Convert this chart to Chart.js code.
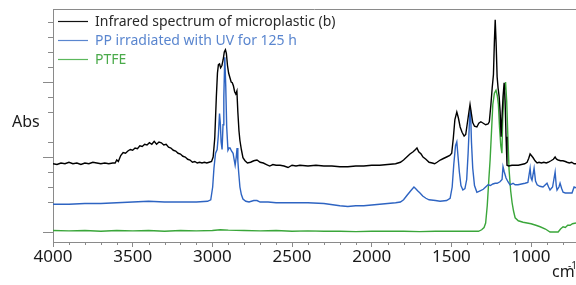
<!DOCTYPE html>
<html>
<head>
<meta charset="utf-8">
<script src="https://cdn.jsdelivr.net/npm/chart.js@4.4.1/dist/chart.umd.min.js"></script>
<style>
html,body{margin:0;padding:0;background:#fff;}
#wrap{width:576px;height:285px;position:relative;}
</style>
</head>
<body>
<div id="wrap"><canvas id="c" width="576" height="285"></canvas></div>
<script>
// ---- data (wavenumber cm-1, absorbance arbitrary units) ----
const seriesLabels = ["Infrared spectrum of microplastic (b)", "PP irradiated with UV for 125 h", "PTFE"];
const xTickValues = [1000, 1500, 2000, 2500, 3000, 3500, 4000];
const xMinorTickValues = [800, 900, 1100, 1200, 1300, 1400, 1600, 1700, 1800, 1900, 2100, 2200, 2300, 2400, 2600, 2700, 2800, 2900, 3100, 3200, 3300, 3400, 3600, 3700, 3800, 3900];
const yMajorTickValues = [0, 1, 2];
const yMinorTickValues = [0.4, 0.6, 0.8, 1.2, 1.6, 1.8, 2.2, 2.4, 2.6, 2.8];

const blackWn = [4000,3975,3950,3925,3900,3875,3850,3825,3800,3775,3750,3725,3700,3675,3650,3625,3610,3600,3590,3575,3560,3545,3530,3515,3500,3485,3470,3455,3440,3425,3410,3395,3380,3365,3350,3335,3320,3305,3290,3275,3260,3245,3230,3215,3200,3185,3170,3155,3140,3125,3110,3095,3080,3065,3050,3035,3020,3005,2995,2985,2975,2968,2962,2955,2948,2940,2932,2925,2918,2912,2905,2898,2890,2882,2875,2868,2860,2853,2846,2840,2833,2827,2818,2808,2795,2780,2760,2740,2720,2700,2680,2660,2640,2620,2600,2575,2550,2525,2500,2475,2450,2400,2350,2300,2250,2200,2150,2100,2050,2000,1950,1900,1850,1820,1800,1780,1760,1740,1725,1716,1705,1690,1678,1660,1640,1620,1605,1590,1570,1550,1530,1510,1498,1488,1478,1466,1456,1445,1433,1420,1410,1400,1390,1383,1376,1366,1355,1340,1328,1315,1300,1285,1270,1262,1252,1244,1236,1230,1225,1219,1213,1207,1200,1194,1188,1182,1176,1169,1163,1157,1151,1140,1120,1100,1080,1060,1040,1025,1015,1006,998,987,975,962,950,935,920,905,893,875,860,849,840,830,815,800,785,774,760,745,730,718];
const blackAbs = [0.91,0.90,0.92,0.91,0.93,0.91,0.92,0.90,0.92,0.91,0.93,0.92,0.91,0.92,0.91,0.92,0.92,0.96,0.94,1.02,1.06,1.05,1.08,1.10,1.09,1.12,1.11,1.15,1.14,1.17,1.16,1.19,1.17,1.21,1.17,1.20,1.19,1.16,1.17,1.13,1.12,1.09,1.08,1.05,1.04,1.01,1.00,0.97,0.96,0.93,0.94,0.92,0.93,0.92,0.93,0.92,0.93,0.94,1.00,1.25,1.80,2.12,2.23,2.24,2.19,2.22,2.30,2.40,2.43,2.38,2.22,2.12,2.06,2.00,1.99,1.95,1.87,1.84,1.88,1.60,1.35,1.22,1.10,0.99,0.95,0.92,0.93,0.95,0.96,0.93,0.92,0.90,0.88,0.90,0.89,0.89,0.88,0.86,0.89,0.88,0.89,0.88,0.89,0.88,0.88,0.87,0.87,0.88,0.88,0.89,0.89,0.90,0.91,0.93,0.96,1.00,1.04,1.07,1.10,1.12,1.07,1.04,1.00,0.97,0.93,0.92,0.91,0.93,0.96,0.98,1.00,1.02,1.05,1.25,1.50,1.60,1.52,1.40,1.33,1.28,1.30,1.45,1.60,1.70,1.60,1.46,1.41,1.40,1.45,1.47,1.45,1.43,1.44,1.47,1.70,1.92,2.10,2.55,2.83,2.50,2.07,1.92,1.80,1.60,1.27,1.55,1.80,1.99,1.75,1.27,0.89,0.88,0.89,0.89,0.89,0.90,0.91,0.93,0.98,1.04,1.02,0.99,0.95,0.92,0.93,0.92,0.93,0.92,0.93,0.95,0.97,1.00,0.97,0.96,0.95,0.95,0.94,0.93,0.92,0.93,0.91,0.91];

const blueWn = [4000,3900,3800,3700,3600,3500,3400,3300,3200,3100,3030,3010,2998,2990,2980,2970,2962,2955,2950,2945,2939,2933,2928,2922,2916,2910,2902,2895,2889,2880,2870,2862,2857,2850,2845,2840,2835,2827,2818,2808,2790,2770,2740,2720,2700,2650,2600,2500,2400,2300,2200,2150,2100,2050,2000,1950,1900,1850,1820,1800,1778,1755,1735,1725,1712,1697,1680,1660,1640,1600,1571,1530,1508,1495,1485,1474,1466,1458,1450,1440,1428,1415,1404,1395,1385,1380,1374,1366,1355,1340,1320,1300,1285,1270,1255,1240,1225,1213,1195,1182,1176,1168,1157,1145,1132,1113,1100,1082,1060,1038,1020,1006,1000,994,981,972,962,945,925,900,890,881,865,849,842,837,825,818,808,799,785,774,755,743,730,718];
const blueAbs = [0.37,0.37,0.38,0.38,0.39,0.40,0.41,0.40,0.40,0.40,0.41,0.43,0.60,0.85,1.05,1.10,1.30,1.58,1.45,1.20,1.10,1.43,1.80,2.33,1.95,1.40,1.09,1.12,1.12,1.08,1.05,0.95,0.89,1.00,1.12,0.95,0.80,0.60,0.50,0.44,0.41,0.40,0.42,0.42,0.40,0.40,0.39,0.39,0.39,0.38,0.35,0.34,0.35,0.35,0.36,0.37,0.38,0.39,0.40,0.43,0.49,0.55,0.60,0.58,0.55,0.52,0.48,0.45,0.43,0.42,0.41,0.42,0.45,0.60,0.90,1.15,1.20,1.00,0.80,0.62,0.56,0.58,0.70,1.05,1.55,1.63,1.20,0.85,0.62,0.53,0.55,0.57,0.60,0.63,0.62,0.64,0.65,0.65,0.67,0.70,0.87,0.80,0.72,0.67,0.63,0.65,0.63,0.63,0.64,0.65,0.66,0.85,0.72,0.69,0.85,0.68,0.63,0.61,0.60,0.65,0.60,0.56,0.60,0.80,0.62,0.56,0.60,0.65,0.58,0.53,0.52,0.52,0.52,0.52,0.60,0.59];

const greenWn = [4000,3900,3800,3700,3600,3500,3400,3300,3200,3100,3000,2950,2900,2800,2700,2600,2500,2400,2300,2200,2100,2000,1900,1800,1700,1600,1500,1400,1330,1310,1295,1285,1275,1265,1257,1248,1240,1230,1220,1212,1205,1198,1190,1183,1178,1170,1160,1153,1146,1138,1128,1119,1110,1100,1080,1050,1025,1000,970,943,910,881,860,830,815,799,785,770,755,740,718];
const greenAbs = [0.02,0.015,0.02,0.01,0.02,0.015,0.02,0.01,0.02,0.015,0.02,0.03,0.025,0.02,0.015,0.02,0.01,0.015,0.01,0.01,0.005,0.01,0.01,0.01,0.005,0.01,0.01,0.01,0.01,0.03,0.06,0.12,0.35,0.70,0.96,1.35,1.70,1.85,1.89,1.82,1.70,1.40,1.15,1.05,1.50,1.85,2.00,1.75,1.30,0.83,0.55,0.39,0.28,0.19,0.15,0.13,0.12,0.11,0.09,0.07,0.04,0.00,0.00,0.00,0.04,0.07,0.06,0.09,0.09,0.11,0.12];

const seriesColors = ["#000000", "#2e64c2", "#3aa63a"];
const legendTextColors = ["#2a2a2a", "#5a86cf", "#4aaa4a"];
const legendLineColors = ["#111111", "#5a86cf", "#5cb85c"];

function pairs(xs, ys){ return xs.map((x,i)=>({x:x, y:ys[i]})); }

const FONT = "'Noto Sans', 'Open Sans', sans-serif";
const AXIS_COLOR = "#8a8a8a";

const decorPlugin = {
  id: 'decor',
  afterDraw(chart){
    const ctx = chart.ctx, ca = chart.chartArea;
    const xs = chart.scales.x, ys = chart.scales.y;
    ctx.save();
    ctx.strokeStyle = AXIS_COLOR;
    ctx.lineWidth = 1;
    // top border
    ctx.beginPath(); ctx.moveTo(ca.left, ca.top + 0.5); ctx.lineTo(ca.right, ca.top + 0.5); ctx.stroke();
    // x minor ticks
    ctx.beginPath();
    xMinorTickValues.forEach(v=>{
      const px = Math.round(xs.getPixelForValue(v)) + 0.5;
      ctx.moveTo(px, ca.bottom); ctx.lineTo(px, ca.bottom + 3);
    });
    ctx.stroke();
    // y ticks
    ctx.beginPath();
    yMajorTickValues.forEach(v=>{
      const py = Math.round(ys.getPixelForValue(v)) + 0.5;
      ctx.moveTo(ca.left, py); ctx.lineTo(ca.left - 10, py);
    });
    yMinorTickValues.forEach(v=>{
      const py = Math.round(ys.getPixelForValue(v)) + 0.5;
      ctx.moveTo(ca.left, py); ctx.lineTo(ca.left - 5, py);
    });
    ctx.stroke();
    // Abs label
    ctx.fillStyle = "#1a1a1a";
    ctx.font = "16px " + FONT;
    ctx.textBaseline = "middle";
    ctx.textAlign = "left";
    ctx.fillText("Abs", 12, 122);
    // unit
    ctx.fillText("cm", ca.right - 24, 272);
    ctx.font = "10px " + FONT;
    ctx.fillText("-1", ca.right - 8, 266);
    // legend
    ctx.font = "14px " + FONT;
    chart.data.datasets.forEach((ds, i)=>{
      const y = ca.top + 12.5 + i * 19;
      ctx.strokeStyle = legendLineColors[i];
      ctx.lineWidth = 1.2;
      ctx.beginPath(); ctx.moveTo(ca.left + 5, y); ctx.lineTo(ca.left + 35, y); ctx.stroke();
      ctx.fillStyle = legendTextColors[i];
      ctx.fillText(ds.label, ca.left + 42, y + 0.5);
    });
    ctx.restore();
  }
};

new Chart(document.getElementById('c'), {
  type: 'line',
  data: {
    datasets: [
      {label: seriesLabels[0], data: pairs(blackWn, blackAbs), borderColor: seriesColors[0], borderWidth: 1.4, pointRadius: 0, tension: 0, order: 1},
      {label: seriesLabels[1], data: pairs(blueWn, blueAbs), borderColor: seriesColors[1], borderWidth: 1.4, pointRadius: 0, tension: 0, order: 2},
      {label: seriesLabels[2], data: pairs(greenWn, greenAbs), borderColor: seriesColors[2], borderWidth: 1.4, pointRadius: 0, tension: 0, order: 3}
    ]
  },
  options: {
    responsive: false,
    animation: false,
    devicePixelRatio: 1,
    layout: {padding: {top: 9, right: 0, left: 0, bottom: 0}},
    plugins: {legend: {display: false}, tooltip: {enabled: false}},
    scales: {
      x: {
        type: 'linear', reverse: true, min: 718, max: 4000,
        afterBuildTicks: (s)=>{ s.ticks = xTickValues.map(v=>({value: v})); },
        afterFit: (s)=>{ s.height = 43; },
        grid: {display: true, drawOnChartArea: false, drawTicks: true, tickLength: 5, color: AXIS_COLOR},
        border: {display: true, color: AXIS_COLOR, width: 1},
        ticks: {color: '#1a1a1a', font: {family: FONT, size: 17}, padding: 0, maxRotation: 0, autoSkip: false,
                callback: (v)=>String(v)}
      },
      y: {
        type: 'linear', min: -0.133, max: 2.973,
        afterFit: (s)=>{ s.width = 53; },
        grid: {display: false},
        border: {display: true, color: AXIS_COLOR, width: 1},
        ticks: {display: false}
      }
    }
  },
  plugins: [decorPlugin]
});
</script>
</body>
</html>
